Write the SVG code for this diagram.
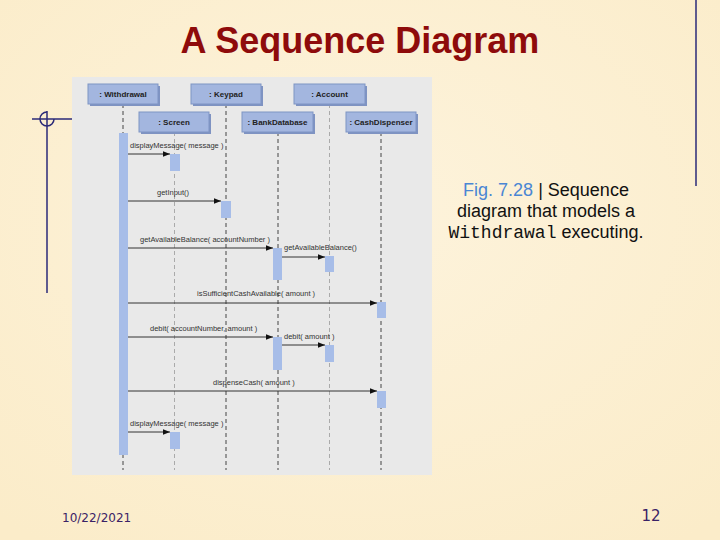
<svg xmlns="http://www.w3.org/2000/svg" width="720" height="540" viewBox="0 0 720 540">
<defs>
<marker id="ah" viewBox="0 0 10 10" refX="10" refY="5" markerWidth="10" markerHeight="7" markerUnits="userSpaceOnUse" orient="auto">
<path d="M0,1 L10,5 L0,9 z" fill="#111"/>
</marker>
<radialGradient id="bg" cx="50%" cy="40%" r="75%">
<stop offset="0" stop-color="#fdf3dc"/>
<stop offset="1" stop-color="#fbecc9"/>
</radialGradient>
</defs>
<style>
.obj rect.b{fill:#a3b6df;stroke:#7f95c4;stroke-width:1}
.obj rect.s{fill:#7f93c2}
.obj text{font-family:"Liberation Sans",Arial,sans-serif;font-size:8px;font-weight:bold;fill:#222;text-anchor:middle}
.ll{stroke:#444;stroke-width:1;stroke-dasharray:4,3}
.ll2{stroke:#aaa;stroke-width:1;stroke-dasharray:4,3}
.act{fill:#a7bde8}
.msg{stroke:#333;stroke-width:1;marker-end:url(#ah)}
.ml{font-family:"Liberation Sans",Arial,sans-serif;font-size:7.5px;fill:#333}
</style>
<rect width="720" height="540" fill="url(#bg)"/>
<!-- decorations -->
<g stroke="#2b2a78" stroke-width="1.5" fill="none">
<line x1="32" y1="119" x2="72" y2="119"/>
<line x1="47" y1="111" x2="47" y2="293"/>
<path d="M47,112 A7,7 0 1 0 54,119"/>
<line x1="696" y1="0" x2="696" y2="186"/>
</g>
<text x="360" y="53" font-family="Liberation Sans,Arial,sans-serif" font-size="36" font-weight="bold" fill="#8e0b0b" text-anchor="middle">A Sequence Diagram</text>
<!-- panel -->
<rect x="72" y="77" width="360" height="398" fill="#e9e9e9"/>
<g id="connectors">
<line class="ll" x1="123" y1="104" x2="123" y2="470"/>
<line class="ll2" x1="174.5" y1="132" x2="174.5" y2="470"/>
<line class="ll" x1="226" y1="104" x2="226" y2="470"/>
<line class="ll" x1="278" y1="132" x2="278" y2="470"/>
<line class="ll2" x1="329.5" y1="104" x2="329.5" y2="470"/>
<line class="ll" x1="381" y1="132" x2="381" y2="470"/>
</g>
<g id="activations">
<rect class="act" x="119" y="133" width="9" height="322"/>
<rect class="act" x="170" y="154" width="10" height="17"/>
<rect class="act" x="221" y="201" width="10" height="17"/>
<rect class="act" x="273" y="248" width="9" height="32"/>
<rect class="act" x="325" y="256" width="9" height="16"/>
<rect class="act" x="377" y="302" width="9" height="16"/>
<rect class="act" x="273" y="337" width="9" height="33"/>
<rect class="act" x="325" y="345" width="9" height="17"/>
<rect class="act" x="377" y="391" width="9" height="17"/>
<rect class="act" x="170" y="432" width="10" height="17"/>
</g>
<g id="withdrawal" class="obj"><rect class="s" x="90" y="86" width="70" height="20"/><rect class="b" x="88" y="84" width="70" height="20"/><text x="123" y="97">: Withdrawal</text></g>
<g id="keypad" class="obj"><rect class="s" x="193" y="86" width="70" height="20"/><rect class="b" x="191" y="84" width="70" height="20"/><text x="226" y="97">: Keypad</text></g>
<g id="account" class="obj"><rect class="s" x="296" y="86" width="71" height="20"/><rect class="b" x="294" y="84" width="71" height="20"/><text x="329.5" y="97">: Account</text></g>
<g id="screen" class="obj"><rect class="s" x="141" y="114" width="70" height="20"/><rect class="b" x="139" y="112" width="70" height="20"/><text x="174" y="125">: Screen</text></g>
<g id="bankdatabase" class="obj"><rect class="s" x="244" y="114" width="71" height="20"/><rect class="b" x="242" y="112" width="71" height="20"/><text x="277.5" y="125">: BankDatabase</text></g>
<g id="cashdispenser" class="obj"><rect class="s" x="348" y="114" width="70" height="20"/><rect class="b" x="346" y="112" width="70" height="20"/><text x="381" y="125">: CashDispenser</text></g>
<g id="messages">
<line class="msg" x1="128" y1="154" x2="170" y2="154"/>
<text class="ml" x="130" y="148">displayMessage( message )</text>
<line class="msg" x1="128" y1="201" x2="221" y2="201"/>
<text class="ml" x="157" y="195">getInput()</text>
<line class="msg" x1="128" y1="248" x2="273" y2="248"/>
<text class="ml" x="140" y="242">getAvailableBalance( accountNumber )</text>
<line class="msg" x1="282" y1="257" x2="325" y2="257"/>
<text class="ml" x="284" y="250">getAvailableBalance()</text>
<line class="msg" x1="128" y1="303" x2="377" y2="303"/>
<text class="ml" x="197" y="296">isSufficientCashAvailable( amount )</text>
<line class="msg" x1="128" y1="337" x2="273" y2="337"/>
<text class="ml" x="150" y="331">debit( accountNumber, amount )</text>
<line class="msg" x1="282" y1="345" x2="325" y2="345"/>
<text class="ml" x="284" y="339">debit( amount )</text>
<line class="msg" x1="128" y1="391" x2="377" y2="391"/>
<text class="ml" x="213" y="385">dispenseCash( amount )</text>
<line class="msg" x1="128" y1="432" x2="170" y2="432"/>
<text class="ml" x="130" y="426">displayMessage( message )</text>
</g>
<!-- caption -->
<g font-family="Liberation Sans,Arial,sans-serif" font-size="18" text-anchor="middle" fill="#111">
<text x="546" y="196"><tspan fill="#4a86d4">Fig. 7.28</tspan> | Sequence</text>
<text x="546" y="217">diagram that models a</text>
<text x="546" y="238"><tspan font-family="Liberation Mono,Courier New,monospace">Withdrawal</tspan> executing.</text>
</g>
<text x="62" y="522" font-family="DejaVu Sans,Verdana,sans-serif" font-size="12" fill="#3a2266">10/22/2021</text>
<text x="651" y="521" font-family="DejaVu Sans,Verdana,sans-serif" font-size="15" fill="#3a2266" text-anchor="middle">12</text>
</svg>
